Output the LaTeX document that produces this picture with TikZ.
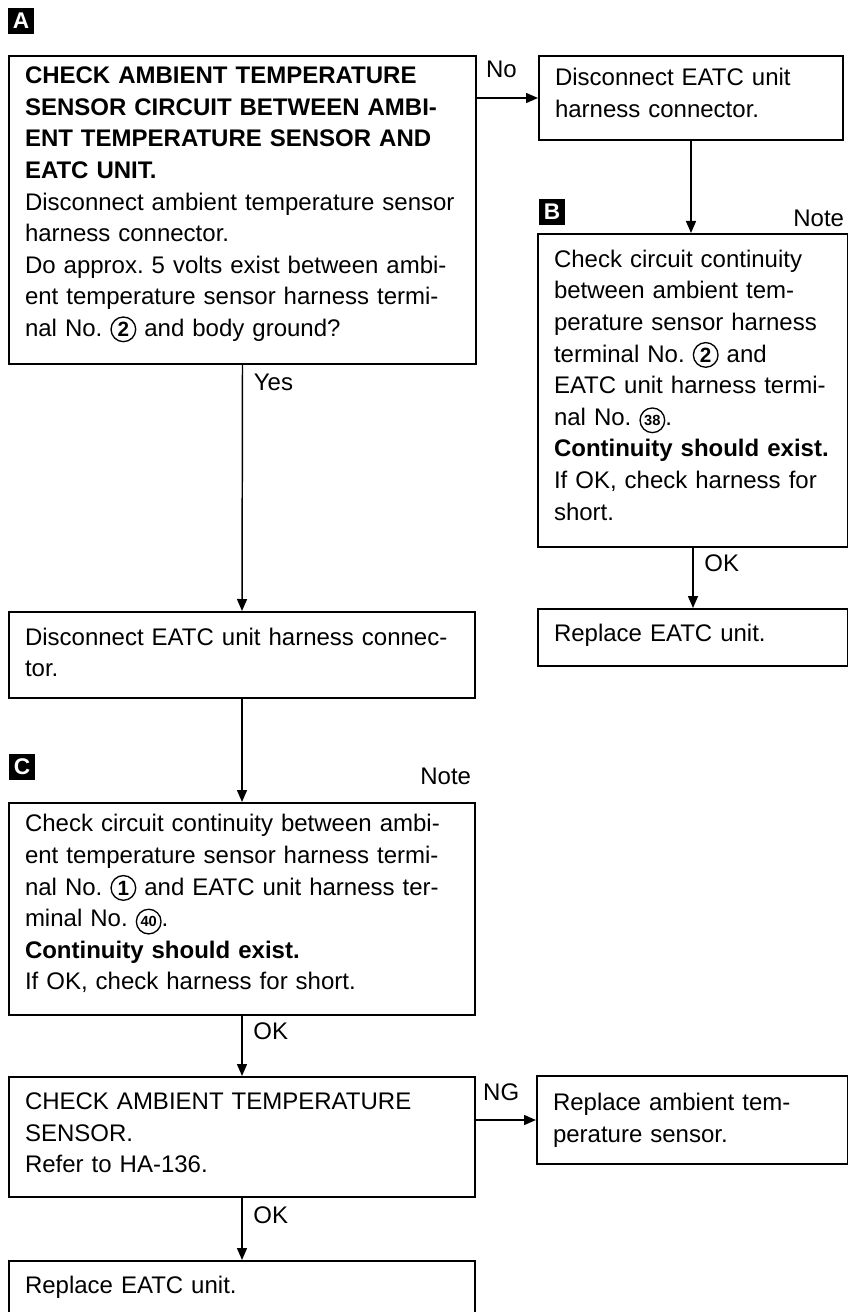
\documentclass[tikz,border=0pt]{standalone}
\usepackage{fontspec}
\setmainfont{Liberation Sans}
\usetikzlibrary{arrows.meta,positioning}
% circled terminal number
\newcommand{\termno}[2][15.5pt]{\tikz[baseline=(tn.base)]\node[circle,draw,line width=1pt,inner sep=0pt,minimum size=18.5pt,font=\fontsize{#1}{#1}\selectfont\bfseries] (tn) {#2};}
% lift box text a little towards the top edge
\newcommand{\lift}[1]{\par\kern#1}
\tikzset{
  stepbox/.style={
    rectangle,
    draw,
    line width=1.5pt,
    inner xsep=12pt,
    inner ysep=8pt,
    align=left,
    anchor=north west,
    font=\fontsize{18pt}{23.7pt}\selectfont
  },
  tagbox/.style={
    rectangle,
    fill=black,
    text=white,
    minimum size=19pt,
    inner sep=0pt,
    font=\fontsize{17pt}{17pt}\selectfont\bfseries
  },
  flowarrow/.style={-{Triangle[length=9pt,width=7.5pt]},line width=1.1pt},
  lbl/.style={font=\fontsize{18pt}{20pt}\selectfont,inner sep=2pt}
}
\frenchspacing
\begin{document}
\begin{tikzpicture}[x=0.75pt,y=-0.75pt]
  \useasboundingbox (0,0) rectangle (848,1312);

  \node[tagbox] (tagA) at (21,21) {A};
  \node[stepbox, text width=326.25pt, minimum height=231pt] (chkA) at (8,55) {
    \textbf{CHECK AMBIENT TEMPERATURE}\\
    \textbf{SENSOR CIRCUIT BETWEEN AMBI-}\\
    \textbf{ENT TEMPERATURE SENSOR AND}\\
    \textbf{EATC UNIT.}\\
    Disconnect ambient temperature sensor\\
    harness connector.\\
    Do approx. 5 volts exist between ambi-\\
    ent temperature sensor harness termi-\\
    nal No. \termno{2} and body ground?\lift{8pt}
  };

  \node[stepbox, text width=204pt, minimum height=63pt] (disc1) at (538,55) {
    Disconnect EATC unit\\
    harness connector.\lift{8pt}
  };

  \node[tagbox] (tagB) at (552,212) {B};
  \node[lbl, anchor=base east] (noteB) at (847,227) {Note};
  \node[stepbox, text width=208.5pt, minimum height=234.75pt] (chkB) at (537,233) {
    Check circuit continuity\\
    between ambient tem-\\
    perature sensor harness\\
    terminal No. \termno{2} and\\
    EATC unit harness termi-\\
    nal No. \termno[11pt]{38}.\\
    \textbf{Continuity should exist.}\\
    If OK, check harness for\\
    short.\lift{8pt}
  };

  \node[stepbox, text width=208.5pt, minimum height=42.75pt] (replB) at (537,608) {
    Replace EATC unit.\lift{4pt}
  };

  \node[stepbox, text width=325.5pt, minimum height=64.5pt] (disc2) at (8,611) {
    Disconnect EATC unit harness connec-\\
    tor.\lift{4pt}
  };

  \node[tagbox] (tagC) at (22,767) {C};
  \node[lbl, anchor=base east] (noteC) at (474,784) {Note};
  \node[stepbox, text width=325.5pt, minimum height=159pt] (chkC) at (8,802) {
    Check circuit continuity between ambi-\\
    ent temperature sensor harness termi-\\
    nal No. \termno{1} and EATC unit harness ter-\\
    minal No. \termno[11pt]{40}.\\
    \textbf{Continuity should exist.}\\
    If OK, check harness for short.\lift{8pt}
  };

  \node[stepbox, text width=325.5pt, minimum height=90pt] (chkS) at (8,1076) {
    CHECK AMBIENT TEMPERATURE\\
    SENSOR.\\
    Refer to HA-136.\lift{6pt}
  };

  \node[stepbox, text width=209.25pt, minimum height=66pt] (replS) at (536,1075) {
    Replace ambient tem-\\
    perature sensor.
  };

  \node[stepbox, text width=325.5pt, inner ysep=11pt, text depth=40pt] (replE) at (8,1260) {
    Replace EATC unit.
  };

  \draw[flowarrow] (disc1.west -| chkA.east) -- node[lbl, above=13pt, pos=0.4] {No} (disc1.west);
  \draw[flowarrow] (chkA.south) -- node[lbl, right=6pt, pos=0.07] {Yes} (disc2.north);
  \draw[flowarrow] (disc1.south) -- (disc1.south |- chkB.north);
  \draw[flowarrow] (chkB.south) -- node[lbl, right=6pt, pos=0.26] {OK} (replB.north);
  \draw[flowarrow] (disc2.south) -- (chkC.north);
  \draw[flowarrow] (chkC.south) -- node[lbl, right=6pt, pos=0.26] {OK} (chkS.north);
  \draw[flowarrow] (replS.west -| chkS.east) -- node[lbl, above=12.25pt, pos=0.42] {NG} (replS.west);
  \draw[flowarrow] (chkS.south) -- node[lbl, right=6pt, pos=0.27] {OK} (replE.north);
\end{tikzpicture}
\end{document}
